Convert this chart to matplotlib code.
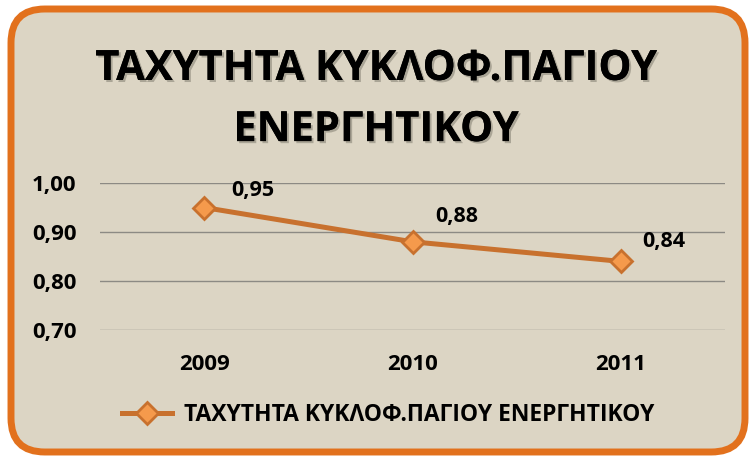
import matplotlib
matplotlib.use('Agg')
from matplotlib import pyplot as plt
from matplotlib.patches import FancyBboxPatch
import matplotlib.patheffects as pe

years = ['2009', '2010', '2011']
turnover = [0.95, 0.88, 0.84]
yticks = [0.70, 0.80, 0.90, 1.00]
series_name = 'ΤΑΧΥΤΗΤΑ ΚΥΚΛΟΦ.ΠΑΓΙΟΥ ΕΝΕΡΓΗΤΙΚΟΥ'
title = 'ΤΑΧΥΤΗΤΑ ΚΥΚΛΟΦ.ΠΑΓΙΟΥ\nΕΝΕΡΓΗΤΙΚΟΥ'

plt.rcParams['font.family'] = ['Open Sans', 'DejaVu Sans']
plt.rcParams['font.weight'] = 'bold'

W, H = 752, 459
fig = plt.figure(figsize=(W / 100, H / 100), dpi=100, facecolor='white')

# rounded frame with orange edge
frame = FancyBboxPatch((11 / W, 7 / H), 734 / W, 443 / H,
                       boxstyle='round,pad=0,rounding_size=0.045',
                       transform=fig.transFigure, facecolor='#dcd5c4',
                       edgecolor='#e2711d', linewidth=5, zorder=-5,
                       mutation_aspect=W / H)
fig.patches.append(frame)

shadow = [pe.withSimplePatchShadow(offset=(1.5, -1.5), shadow_rgbFace='#8a8578', alpha=0.6),
          pe.Normal()]
fig.text(0.5, 1 - 100 / H, title, ha='center', va='center', fontsize=30,
         fontweight='bold', linespacing=1.65, color='black', path_effects=shadow)

ax = fig.add_axes([100 / W, 1 - 330 / H, 625 / W, 147 / H])
ax.patch.set_alpha(0)
x = range(len(years))
line, = ax.plot(x, turnover, color='#c8712e', lw=3.6, marker='D', markersize=11,
                markerfacecolor='#f59a4c', markeredgecolor='#c8712e',
                markeredgewidth=2, label=series_name, zorder=3)

offsets = [(35, 12), (32, 18), (31, 14)]
for xi, v, off in zip(x, turnover, offsets):
    ax.annotate(f'{v:.2f}'.replace('.', ','), (xi, v), xytext=off,
                textcoords='offset points', ha='center', va='center',
                fontsize=15.5, fontweight='bold')

ax.set_xlim(-0.5, len(years) - 0.5)
ax.set_ylim(0.70, 1.00)
ax.set_yticks(yticks)
ax.set_yticklabels([f'{t:.2f}'.replace('.', ',') for t in yticks])
ax.set_xticks(list(x))
ax.set_xticklabels(years)
ax.tick_params(length=0, labelsize=16, pad=17)
ax.tick_params(axis='y', pad=17)
for lbl in ax.get_xticklabels() + ax.get_yticklabels():
    lbl.set_fontweight('bold')
ax.yaxis.grid(True, color='#8c8a84', lw=1)
ax.set_axisbelow(True)
for s in ax.spines.values():
    s.set_visible(False)

fig.legend(handles=[line], loc='center', bbox_to_anchor=(388 / W, 1 - 415 / H),
           frameon=False, handlelength=2.2, handletextpad=0.5,
           prop={'weight': 'bold', 'size': 16.5})

fig.savefig('out.png', dpi=100, facecolor='white')
